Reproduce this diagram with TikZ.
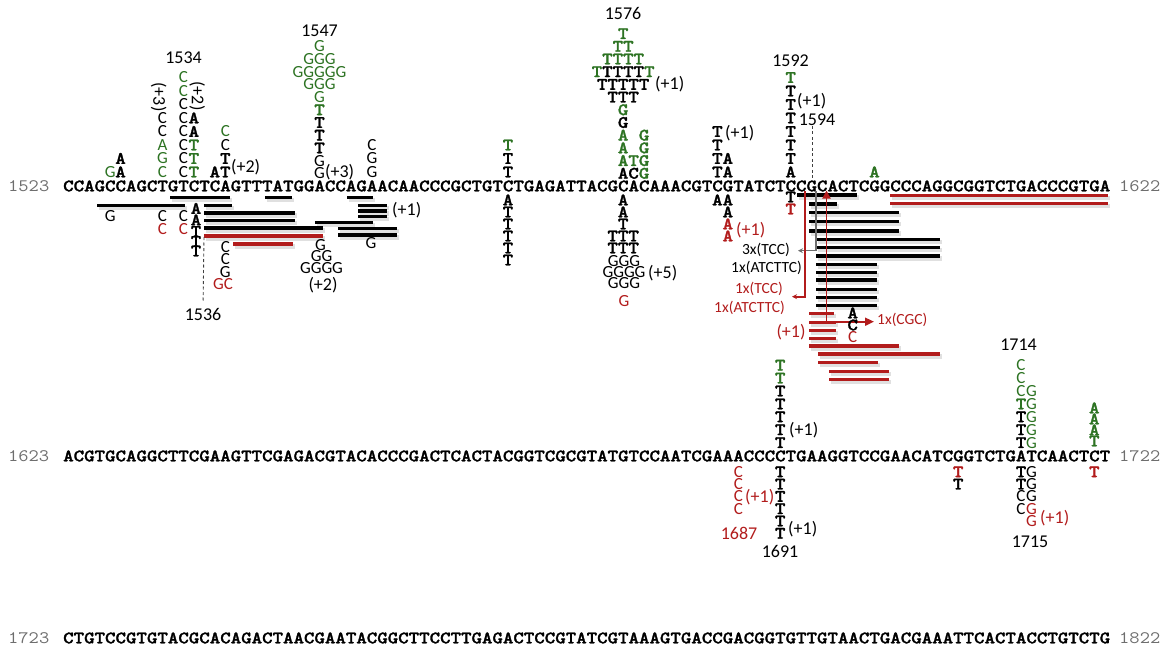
\documentclass[tikz,border=0pt]{standalone}
\usepackage{graphicx}
\usepackage{fontspec}
\newfontfamily\carl{Carlito}
\newfontfamily\cour{lmmonolt10-bold.otf}[FakeBold=1.4]
\usetikzlibrary{arrows.meta}
\definecolor{grn}{RGB}{45,115,35}
\definecolor{rd}{RGB}{178,28,28}
\definecolor{gy}{RGB}{110,110,110}
\newcommand\cw[1]{\scalebox{1.1396}[1]{#1}}
\newcounter{nc}
\newcommand\Mo[4][black]{\stepcounter{nc}\node[mono,text=#1] (m\arabic{nc}) at ({#2},{#3}) {\cw{#4}};}
\newcommand\Sa[4][black]{\stepcounter{nc}\node[sans,text=#1] (s\arabic{nc}) at ({#2},{#3}) {#4};}
\newcommand\sbar[4]{\draw[line width=4.5pt,black,opacity=.12] ({#1+1.5},{#3+2.5}) -- ({#2+2},{#3+2.5});\draw[line width=3.2pt,#4] ({#1},{#3}) -- ({#2},{#3});}
\begin{document}
\begin{tikzpicture}[x=1pt,y=-1pt,
  declare function={cx(\i)=57.765+10.47*\i; up(\k)=186-12.7*\k; ub(\k)=185.5-13.5*\k; dn(\k)=188+12*\k; uq(\k)=455.5-12.9*\k; dq(\k)=459.5+12.3*\k;},
  mono/.style={inner sep=0pt, text height=10.7pt, text depth=0pt, font=\fontsize{17.5}{18}\selectfont\cour},
  num/.style={inner sep=0pt, text height=10.7pt, text depth=0pt, text=gy, font=\fontsize{17.5}{18}\selectfont\ttfamily},
  sans/.style={inner sep=0pt, text height=10.9pt, text depth=0pt, font=\fontsize{17}{18}\selectfont\carl},
  lab/.style={inner sep=0pt, text height=11.4pt, text depth=0pt, font=\fontsize{18}{19}\selectfont\carl},
  ann/.style={inner sep=0pt, text height=9.8pt, text depth=0pt, font=\fontsize{15.5}{16}\selectfont\carl},
  dsh/.style={black!75, line width=0.9pt, dash pattern=on 3pt off 2.5pt},
]
\useasboundingbox (0,0) rectangle (1166,651);
% ---------- bars, left cluster
\sbar{170}{230}{197.3}{black}
\sbar{97}{185}{205.7}{black}
\sbar{204}{232}{205.7}{black}
\sbar{204}{295}{213}{black}
\sbar{204}{295}{220.5}{black}
\sbar{204}{323}{228}{black}
\sbar{204}{323}{236}{rd}
\sbar{233}{293}{244}{rd}
\sbar{265}{292}{197.7}{black}
\sbar{347}{373}{197.7}{black}
\sbar{358}{387}{205.7}{black}
\sbar{358}{387}{211}{black}
\sbar{358}{387}{216.3}{black}
\sbar{315}{373}{222.7}{black}
\sbar{338}{397}{228.3}{black}
\sbar{338}{397}{235}{black}
% ---------- bars, right cluster
\sbar{797}{857}{195}{black}
\sbar{809}{837}{204}{black}
\foreach \y in {212.3,221.7,231}{\sbar{809}{899}{\y}{black}}
\foreach \y in {239.3,247.3,256}{\sbar{816}{940}{\y}{black}}
\foreach \y in {264.3,272.7,280,289.3,297.3,305.3}{\sbar{816}{877}{\y}{black}}
\sbar{809}{834}{313.3}{rd}
\foreach \y in {322.7,330.7,338.3}{\sbar{809}{836}{\y}{rd}}
\sbar{809}{899}{346}{rd}
\sbar{818}{940}{354}{rd}
\sbar{818}{878}{362.3}{rd}
\sbar{829}{889}{371.7}{rd}
\sbar{829}{889}{379.3}{rd}
\sbar{890}{1108}{195.7}{rd}
\sbar{890}{1108}{203.5}{rd}
% ---------- sequence lines
\node[mono,anchor=west] (seq1) at (63,186) {\cw{CCAGCCAGCTGTCTCAGTTTATGGACCAGAACAACCCGCTGTCTGAGATTACGCACAAACGTCGTATCTCCGCACTCGGCCCAGGCGGTCTGACCCGTGA}};
\node[mono,anchor=west] (seq2) at (63,456) {\cw{ACGTGCAGGCTTCGAAGTTCGAGACGTACACCCGACTCACTACGGTCGCGTATGTCCAATCGAAACCCCTGAAGGTCCGAACATCGGTCTGATCAACTCT}};
\node[mono,anchor=west] (seq3) at (63,638) {\cw{CTGTCCGTGTACGCACAGACTAACGAATACGGCTTCCTTGAGACTCCGTATCGTAAAGTGACCGACGGTGTTGTAACTGACGAAATTCACTACCTGTCTG}};
\node[num,anchor=west] (n1523) at (8,186) {\cw{1523}};
\node[num,anchor=west] (n1622) at (1119,186) {\cw{1622}};
\node[num,anchor=west] (n1623) at (8,456) {\cw{1623}};
\node[num,anchor=west] (n1722) at (1119,456) {\cw{1722}};
\node[num,anchor=west] (n1723) at (8,638) {\cw{1723}};
\node[num,anchor=west] (n1822) at (1119,638) {\cw{1822}};
% ---------- left cluster (1534/1536)
\Sa[grn]{cx(5)}{ub(1)}{G}
\Mo{cx(6)}{ub(1)}{A}
\Mo{cx(6)}{ub(2)}{A}
\Sa[grn]{cx(10)}{ub(1)}{C}
\Sa[grn]{cx(10)}{ub(2)}{G}
\Sa[grn]{cx(10)}{ub(3)}{A}
\Sa{cx(10)}{ub(4)}{C}
\Sa{cx(10)}{ub(5)}{C}
\node[lab,rotate=-90] (p3a) at (159,97) {(+3)};
\foreach \k in {1,...,6}{\Sa{cx(12)}{ub(\k)}{C}}
\Sa[grn]{cx(12)}{ub(7)}{C}
\Sa[grn]{cx(12)}{ub(8)}{C}
\foreach \k in {1,2,3}{\Mo[grn]{cx(13)}{ub(\k)}{T}}
\Mo{cx(13)}{ub(4)}{A}
\Mo{cx(13)}{ub(5)}{A}
\node[lab,rotate=-90] (p2a) at (197.5,96) {(+2)};
\Mo{cx(15)}{ub(1)}{A}
\Mo{cx(16)}{ub(1)}{T}
\node[lab,anchor=west] (p2b) at (231,167) {(+2)};
\Mo{cx(16)}{ub(2)}{T}
\Sa{cx(16)}{ub(3)}{C}
\Sa[grn]{cx(16)}{ub(4)}{C}
\node[lab] (l1534) at (183.5,58) {1534};
\Sa{cx(5)}{216}{G}
\Sa{cx(10)}{216}{C}
\Sa{cx(12)}{216}{C}
\Sa[rd]{cx(10)}{229.5}{C}
\Sa[rd]{cx(12)}{229.5}{C}
\Mo{196}{208.5}{A}
\Mo{196}{220}{A}
\Mo{196}{231.5}{T}
\Mo{196}{241.5}{T}
\Mo{196}{251}{T}
\Sa{cx(16)}{247}{C}
\Sa{cx(16)}{259.5}{C}
\Sa{cx(16)}{272}{G}
\Sa[rd]{223}{284.5}{GC}
\node[lab] (l1536) at (203,315) {1536};
\coordinate (d1536) at (204,237);
\draw[dsh, shorten >=8pt] (d1536) -- (l1536.north);
% ---------- 1547
\Sa{cx(25)}{up(1)}{G}
\node[lab,anchor=west] (p3b) at (325,171.7) {(+3)};
\Sa{cx(25)}{up(2)}{G}
\foreach \k in {3,4,5}{\Mo{cx(25)}{up(\k)}{T}}
\Mo[grn]{cx(25)}{up(6)}{T}
\Sa[grn]{cx(25)}{up(7)}{G}
\Sa[grn]{cx(25)}{up(8)}{GGG}
\Sa[grn]{cx(25)}{up(9)}{GGGGG}
\Sa[grn]{cx(25)}{up(10)}{GGG}
\Sa[grn]{cx(25)}{up(11)}{G}
\node[lab] (l1547) at (319.5,30.7) {1547};
\Sa{320.5}{245}{G}
\Sa{321.5}{256.5}{GG}
\Sa{321.5}{268}{GGGG}
\node[lab] (p2c) at (323,285) {(+2)};
\Sa{cx(30)}{ub(1)}{G}
\Sa{cx(30)}{ub(2)}{G}
\Sa{cx(30)}{ub(3)}{C}
\Sa{371}{243.5}{G}
\node[lab,anchor=west] (p1a) at (392,210) {(+1)};
% ---------- col 43
\Mo{cx(43)}{ub(1)}{T}
\Mo{cx(43)}{ub(2)}{T}
\Mo[grn]{cx(43)}{ub(3)}{T}
\Mo{cx(43)}{dn(1)}{A}
\foreach \k in {2,...,6}{\Mo{cx(43)}{dn(\k)}{T}}
% ---------- 1576
\Mo{cx(54)}{up(1)}{A}
\Mo{cx(55)}{up(1)}{C}
\Mo[grn]{cx(56)}{up(1)}{G}
\Mo[grn]{cx(54)}{up(2)}{A}
\Mo[grn]{cx(55)}{up(2)}{T}
\Mo[grn]{cx(56)}{up(2)}{G}
\Mo[grn]{cx(54)}{up(3)}{A}
\Mo[grn]{cx(56)}{up(3)}{G}
\Mo[grn]{cx(54)}{up(4)}{A}
\Mo[grn]{cx(56)}{up(4)}{G}
\Mo{cx(54)}{up(5)}{G}
\Mo[grn]{cx(54)}{up(6)}{G}
\Mo{cx(54)}{up(7)}{TTT}
\Mo{cx(54)}{up(8)}{TTTTT}
\node[lab,anchor=west] (p1b) at (655,83.3) {(+1)};
\Mo{cx(54)}{up(9)}{\textcolor{grn}{T}TTTT\textcolor{grn}{T}}
\Mo[grn]{cx(54)}{up(10)}{TTTT}
\Mo[grn]{cx(54)}{up(11)}{TT}
\Mo[grn]{cx(54)}{up(12)}{T}
\node[lab] (l1576) at (623,13.5) {1576};
\Mo{cx(54)}{dn(1)}{A}
\Mo{cx(54)}{dn(2)}{A}
\Mo{cx(54)}{dn(3)}{T}
\Mo{cx(54)}{dn(4)}{TTT}
\Mo{cx(54)}{dn(5)}{TTT}
\Sa{624}{261.5}{GGG}
\Sa{624}{272.5}{GGGG}
\node[lab,anchor=west] (p5) at (648,272.7) {(+5)};
\Sa{624}{283}{GGG}
\Sa[rd]{624}{301.5}{G}
% ---------- col 63-64
\Mo{cx(63)}{ub(1)}{T}
\Mo{cx(64)}{ub(1)}{A}
\Mo{cx(63)}{ub(2)}{T}
\Mo{cx(64)}{ub(2)}{A}
\Mo{cx(63)}{ub(3)}{T}
\Mo{cx(63)}{ub(4)}{T}
\node[lab,anchor=west] (p1c) at (725,133) {(+1)};
\Mo{cx(63)}{dn(1)}{A}
\Mo{cx(64)}{dn(1)}{A}
\Mo{cx(64)}{dn(2)}{A}
\Mo[rd]{cx(64)}{dn(3)}{A}
\Mo[rd]{cx(64)}{dn(4)}{A}
\node[lab,anchor=west,text=rd] (p1d) at (736,230) {(+1)};
% ---------- 1592 / 1594
\Mo{cx(70)}{ub(1)}{A}
\foreach \k in {2,...,7}{\Mo{cx(70)}{ub(\k)}{T}}
\Mo[grn]{cx(70)}{ub(8)}{T}
\node[lab,anchor=west] (p1e) at (797,101) {(+1)};
\node[lab] (l1592) at (790.5,60.7) {1592};
\node[lab] (l1594) at (817,120) {1594};
\coordinate (d1594) at (812,179);
\draw[dsh] (l1594.south -| d1594) -- (d1594);
\Mo{cx(70)}{197}{T}
\Mo[rd]{cx(70)}{209}{T}
\Mo[grn]{cx(78)}{ub(1)}{A}
% ---------- annotations and arrows
\node[ann,anchor=east] (a3x) at (790,249.5) {3x(TCC)};
\node[ann,anchor=east] (a1b) at (802,268) {1x(ATCTTC)};
\node[ann,anchor=east,text=rd] (a1r) at (783,288.5) {1x(TCC)};
\node[ann,anchor=east,text=rd] (a1rb) at (785,308) {1x(ATCTTC)};
\node[ann,anchor=west,text=rd] (acgc) at (877,320) {1x(CGC)};
\node[lab,text=rd] (p1f) at (791,331.7) {(+1)};
\coordinate (g0) at (816,191);
\coordinate (g1) at (798,250.7);
\draw[gy, line width=1.4pt, -{Stealth[length=5pt,width=5pt]}] (g0) |- (g1);
\coordinate (r0) at (805,191);
\coordinate (r1) at (792,296.7);
\draw[rd, line width=1.6pt, -{Stealth[length=5pt,width=5pt]}] (r0) |- (r1);
\coordinate (c1) at (826.5,321.7);
\coordinate (c1t) at (826.5,190.5);
\coordinate (c1r) at (874,321.7);
\draw[rd, line width=1.8pt, -{Triangle[length=8pt,width=8pt]}] (c1) -- (c1t);
\draw[rd, line width=1.8pt, -{Triangle[length=9pt,width=8pt]}] (c1) -- (c1r);
\Mo{852.7}{313}{A}
\Mo{852.7}{325}{C}
\Sa[rd]{852.7}{337}{C}
% ---------- line 2 stacks
\foreach \k in {1,...,4}{\Sa[rd]{cx(65)}{dq(\k)}{C}}
\node[lab,anchor=west,text=rd] (p1g) at (745,497) {(+1)};
\node[lab,text=rd] (l1687) at (739,533.3) {1687};
\foreach \k in {1,...,5}{\Mo{cx(69)}{uq(\k)}{T}}
\Mo[grn]{cx(69)}{uq(6)}{T}
\Mo[grn]{cx(69)}{uq(7)}{T}
\node[lab,anchor=west] (p1h) at (789,429.5) {(+1)};
\foreach \k in {1,...,6}{\Mo{cx(69)}{dq(\k)}{T}}
\node[lab,anchor=west] (p1j) at (788,529) {(+1)};
\node[lab] (l1691) at (780,551.7) {1691};
\Mo[rd]{cx(86)}{dq(1)}{T}
\Mo{cx(86)}{dq(2)}{T}
\foreach \k in {1,2,3}{\Mo{cx(92)}{uq(\k)}{T}\Sa[grn]{cx(93)}{uq(\k)}{G}}
\Mo[grn]{cx(92)}{uq(4)}{T}
\Sa[grn]{cx(93)}{uq(4)}{G}
\Sa[grn]{cx(92)}{uq(5)}{C}
\Sa[grn]{cx(93)}{uq(5)}{G}
\Sa[grn]{cx(92)}{uq(6)}{C}
\Sa[grn]{cx(92)}{uq(7)}{C}
\node[lab] (l1714) at (1018.5,345) {1714};
\foreach \k in {1,2}{\Mo{cx(92)}{dq(\k)}{T}\Sa{cx(93)}{dq(\k)}{G}}
\Sa{cx(92)}{dq(3)}{C}
\Sa{cx(93)}{dq(3)}{G}
\Sa{cx(92)}{dq(4)}{C}
\Sa[rd]{cx(93)}{dq(4)}{G}
\Sa[rd]{cx(93)}{dq(5)}{G}
\node[lab,anchor=west,text=rd] (p1i) at (1040,518) {(+1)};
\node[lab] (l1715) at (1030,541.7) {1715};
\Mo[grn]{cx(99)}{441}{T}
\Mo[grn]{cx(99)}{430}{A}
\Mo[grn]{cx(99)}{419}{A}
\Mo[grn]{cx(99)}{408}{A}
\Mo[rd]{cx(99)}{dq(1)}{T}
\end{tikzpicture}
\end{document}
